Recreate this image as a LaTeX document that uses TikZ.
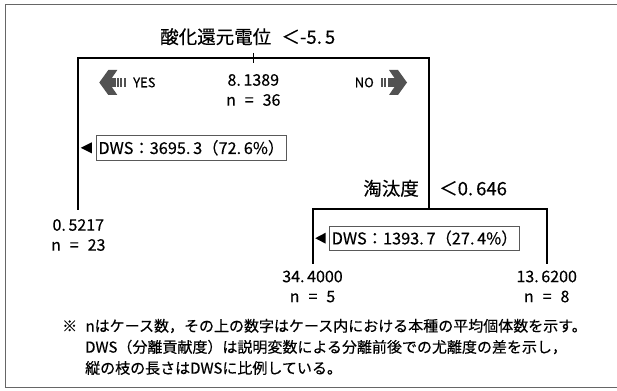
\documentclass[tikz,border=0pt]{standalone}
\usepackage{fontspec}
\setmainfont{Noto Sans CJK JP}[WordSpace=2.5, FakeBold=0.35]
\begin{document}
\begin{tikzpicture}[x=1pt,y=1pt,
  framec/.style={draw=black!60, line width=1pt},
  branch/.style={draw=black, line width=2pt, line cap=rect},
  title/.style={inner sep=0pt, font=\fontsize{18.5}{22}\selectfont},
  val/.style={inner sep=0pt, align=center, font=\fontsize{16}{20}\selectfont},
  dws/.style={draw=black!65, line width=0.9pt, inner sep=2pt, minimum width=181.7pt, minimum height=24.3pt, font=\fontsize{16.3}{18}\selectfont},
  yn/.style={inner sep=0pt, font=\fontsize{13}{15}\selectfont},
  note/.style={inner sep=0pt, font=\fontsize{15}{18}\selectfont},
  arrowc/.style={fill=black!68},
  fatarrow/.pic={
    \fill[arrowc] (0,0) -- (-9,12.5) -- (-18,12.5) -- (-9.5,0) -- (-18,-12.5) -- (-9,-12.5) -- cycle;
    \fill[arrowc] (-17,-4.5) rectangle (-8,4.5);
    \foreach \xx in {-19.5,-23,-26.5} \fill[arrowc] (\xx,-4.5) rectangle ++(2,9);
  },
  tri/.style={fill=black}
]
\useasboundingbox (0,0) rectangle (617,-390);
% outer frame
\draw[framec] (617,-5) -- (5,-5) -- (5,-387) -- (617,-387);

% split labels
\node[title, anchor=west] (t1) at (160,-36.7) {酸化還元電位 ＜-5.\,5};
\node[title, anchor=east] (t2a) at (419,-188.3) {淘汰度};
\node[title, anchor=west] (t2b) at (439,-188.3) {＜0.\,646};

% tree coordinates
\coordinate (rt) at (253.3,-53);
\coordinate (rb) at (253.3,-63);
\coordinate (L) at (78.3,-58.3);
\coordinate (R) at (429.3,-58.3);
\coordinate (Lb) at (78.3,-209.3);
\coordinate (S) at (429.3,-209.3);
\coordinate (SL) at (312.7,-209.3);
\coordinate (SR) at (546.7,-209.3);
\coordinate (SLb) at (312.7,-263.3);
\coordinate (SRb) at (546.7,-263.3);

\draw[branch] (Lb) -- (L) -- (R) -- (S);
\draw[branch] (SLb) -- (SL) -- (SR) -- (SRb);
\draw[draw=black, line width=1.5pt] (rt) -- (rb);

% values
\node[val] (root) at (253.3,-90) {8.\,1389\\n = 36};
\node[val] (leafA) at (78.3,-235) {0.\,5217\\n = 23};
\node[val] (leafB) at (312.5,-286.5) {34.\,4000\\n = 5};
\node[val] (leafC) at (546.7,-286.5) {13.\,6200\\n = 8};

% yes / no
\pic[xscale=-1] at (99.3,-82.5) {fatarrow};
\node[yn, anchor=west] (yes) at (133,-82.5) {YES};
\pic at (407,-82.5) {fatarrow};
\node[yn, anchor=east] (no) at (374,-82.5) {NO};

% DWS boxes
\node[dws, anchor=west] (d1) at (96,-147.8) {DWS：3695.\,3（72.\,6\%）};
\fill[tri] (80.8,-147.8) -- ++(11,5.5) -- ++(0,-11) -- cycle;
\node[dws, anchor=west] (d2) at (329.3,-238.2) {DWS：1393.\,7（27.\,4\%）};
\fill[tri] (315.2,-238.2) -- ++(10.5,5.5) -- ++(0,-11) -- cycle;

% footnote
\node[note, anchor=west] (n1) at (62,-326) {※ nはケース数，その上の数字はケース内における本種の平均個体数を示す。};
\node[note, anchor=west] (n2) at (85,-347) {DWS（分離貢献度）は説明変数による分離前後での尤離度の差を示し，};
\node[note, anchor=west] (n3) at (85,-368) {縦の枝の長さはDWSに比例している。};
\end{tikzpicture}
\end{document}
